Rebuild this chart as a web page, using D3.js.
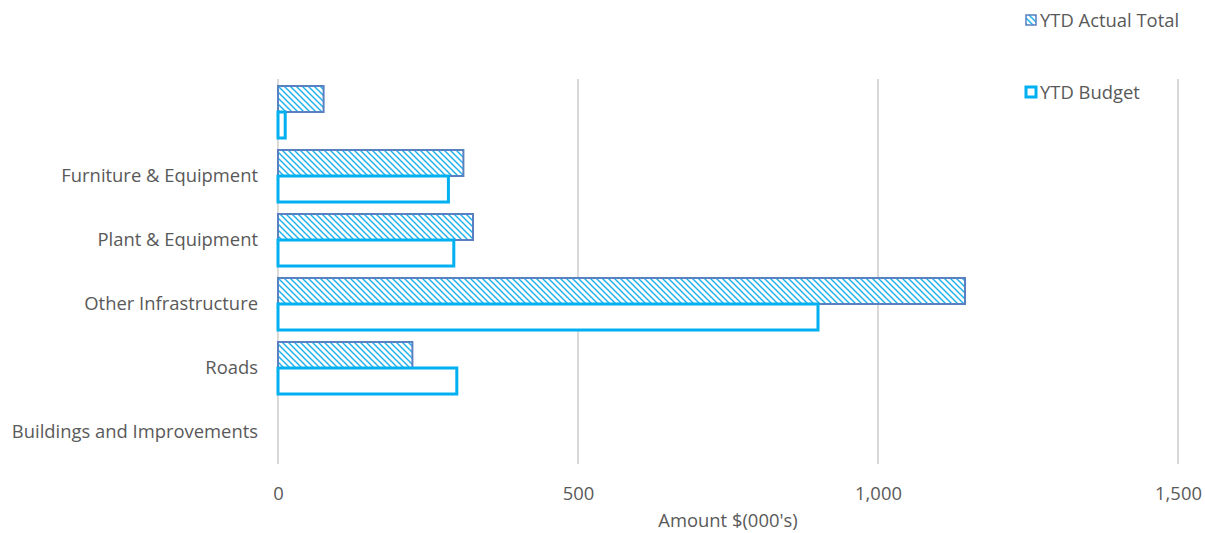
<!DOCTYPE html>
<html>
<head>
<meta charset="utf-8">
<script src="https://cdn.jsdelivr.net/npm/d3@7"></script>
<style>
  html, body { margin: 0; padding: 0; background: #fff; }
  text { font-family: "Open Sans", "Liberation Sans", sans-serif; fill: #595959; }
</style>
</head>
<body>
<svg id="chart" width="1205" height="533"></svg>
<script>
// Capital expenditure by asset class, $(000's), listed top to bottom
const categories = ["", "Furniture & Equipment", "Plant & Equipment ", "Other Infrastructure", "Roads", "Buildings and Improvements"];
const actualTotal = [76, 309, 325, 1145, 224, 0];
const budget = [12, 284, 293, 900, 298, 0];
const seriesNames = ["YTD Actual Total", "YTD Budget"];
const xTicks = [0, 500, 1000, 1500];

const svg = d3.select("#chart");
const margin = { left: 278, right: 27, top: 80, bottom: 69 };
const W = 1205, H = 533;
const FS = 18.4;

const x = d3.scaleLinear().domain([0, 1500]).range([margin.left, W - margin.right]);
const y = d3.scaleBand().domain(categories).range([margin.top, H - margin.bottom]);
const inner = d3.scaleBand().domain(seriesNames).range([0, y.bandwidth()]).paddingOuter(0.23).paddingInner(0);

// diagonal hatch fill
const defs = svg.append("defs");
const pat = defs.append("pattern")
  .attr("id", "hatch").attr("patternUnits", "userSpaceOnUse")
  .attr("width", 6).attr("height", 6);
pat.append("rect").attr("width", 6).attr("height", 6).attr("fill", "#fff");
pat.append("path").attr("d", "M-1,-1 L7,7 M-1,5 L1,7 M5,-1 L7,1")
  .attr("stroke", "#22b2ec").attr("stroke-width", 1.5);

// vertical gridlines
svg.append("g").selectAll("line").data(xTicks).join("line")
  .attr("x1", d => x(d)).attr("x2", d => x(d))
  .attr("y1", margin.top - 1).attr("y2", H - margin.bottom)
  .attr("stroke", "#d9d9d9").attr("stroke-width", 2);

// x tick labels
const xAxis = d3.axisBottom(x).tickValues(xTicks).tickSize(0).tickPadding(0)
  .tickFormat(d3.format(","));
const gx = svg.append("g").attr("transform", `translate(0,${H - margin.bottom + 23})`).call(xAxis);
gx.select(".domain").remove();
gx.selectAll("text").attr("font-size", FS).style("font-family", null).attr("dy", "0.71em");

// category labels
const yAxis = d3.axisLeft(y).tickSize(0).tickPadding(20);
const gy = svg.append("g").attr("transform", `translate(${margin.left},0)`).call(yAxis);
gy.select(".domain").remove();
gy.selectAll("text").attr("font-size", FS).style("font-family", null);

const rows = categories.map((c, i) => ({ c, a: actualTotal[i], b: budget[i] }));

// actual (hatched) bars
svg.append("g").selectAll("rect").data(rows.filter(d => d.a > 0)).join("rect")
  .attr("x", x(0))
  .attr("y", d => y(d.c) + inner(seriesNames[0]))
  .attr("width", d => x(d.a) - x(0))
  .attr("height", inner.bandwidth())
  .attr("fill", "url(#hatch)")
  .attr("stroke", "#5a80c2").attr("stroke-width", 2);

// budget (outlined) bars
svg.append("g").selectAll("rect").data(rows.filter(d => d.b > 0)).join("rect")
  .attr("x", x(0))
  .attr("y", d => y(d.c) + inner(seriesNames[1]))
  .attr("width", d => x(d.b) - x(0))
  .attr("height", inner.bandwidth())
  .attr("fill", "#fff")
  .attr("stroke", "#00B0F0").attr("stroke-width", 3);

// axis title
svg.append("text").attr("x", (x(0) + x(1500)) / 2).attr("y", 527)
  .attr("text-anchor", "middle").attr("font-size", FS).text("Amount $(000's)");

// legend
const legend = svg.append("g");
const legY = [21, 93];
legend.append("rect").attr("x", 1026).attr("y", legY[0] - 6).attr("width", 10).attr("height", 10)
  .attr("fill", "url(#hatch)").attr("stroke", "#5a80c2").attr("stroke-width", 1.5);
legend.append("rect").attr("x", 1026).attr("y", legY[1] - 6).attr("width", 10).attr("height", 10)
  .attr("fill", "#fff").attr("stroke", "#00B0F0").attr("stroke-width", 3);
legend.selectAll("text.leg").data(seriesNames).join("text")
  .attr("class", "leg")
  .attr("x", 1040).attr("y", (d, i) => legY[i]).attr("dy", "0.35em")
  .attr("font-size", FS).text(d => d);
</script>
</body>
</html>
